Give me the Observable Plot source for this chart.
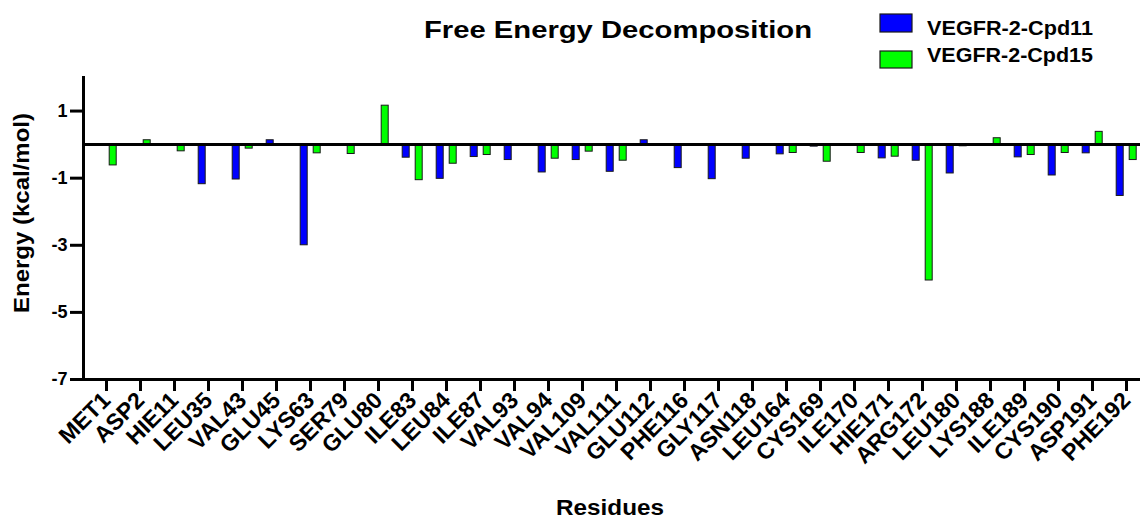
<!DOCTYPE html>
<html><head><meta charset="utf-8">
<script src="https://cdn.jsdelivr.net/npm/d3@7"></script>
<script src="https://cdn.jsdelivr.net/npm/@observablehq/plot@0.6"></script>
<style>
body{margin:0;background:#fff;}
#wrap{position:relative;width:1140px;height:521px;overflow:hidden;font-family:"Liberation Sans",Arial,sans-serif;}
#wrap svg{position:absolute;left:0;top:0;}
</style></head><body><div id="wrap"></div>
<script>
const residues = ["MET1","ASP2","HIE11","LEU35","VAL43","GLU45","LYS63","SER79","GLU80","ILE83","LEU84","ILE87","VAL93","VAL94","VAL109","VAL111","GLU112","PHE116","GLY117","ASN118","LEU164","CYS169","ILE170","HIE171","ARG172","LEU180","LYS188","ILE189","CYS190","ASP191","PHE192"];
const cpd11 = [0,0,0,-1.18,-1.04,0.13,-3.0,-0.04,0,-0.39,-1.02,-0.37,-0.46,-0.83,-0.46,-0.81,0.13,-0.70,-1.03,-0.42,-0.29,-0.06,0,-0.41,-0.48,-0.86,0,-0.38,-0.92,-0.26,-1.53];
const cpd15 = [-0.62,0.13,-0.2,0,-0.12,0,-0.26,-0.28,1.16,-1.06,-0.57,-0.31,0,-0.42,-0.21,-0.48,0,0,0,0,-0.25,-0.51,-0.25,-0.36,-4.05,-0.05,0.19,-0.31,-0.25,0.38,-0.46];
const seriesNames = ["VEGFR-2-Cpd11","VEGFR-2-Cpd15"];
const seriesColors = ["#0000ff","#00ff00"];
const yTicks = [1,-1,-3,-5,-7];
const titleText = "Free Energy Decomposition";
const xLabel = "Residues";
const yLabel = "Energy (kcal/mol)";

const rows11 = residues.map((r,i)=>({residue:r, series:seriesNames[0], value:cpd11[i]}));
const rows15 = residues.map((r,i)=>({residue:r, series:seriesNames[1], value:cpd15[i]}));
const font = '"Liberation Sans", Arial, sans-serif';

const W = 1140, ML = 83, MT = 77, MB = 142, H = 521;
const chart = Plot.plot({
  width:W, height:H, marginLeft:ML, marginRight:0, marginTop:MT, marginBottom:MB,
  style:{fontFamily:font, background:"transparent", overflow:"visible", color:"#000"},
  x:{type:"band", domain:residues, range:[80,1151.7], padding:0, label:null},
  y:{domain:[-7,2], label:null},
  color:{domain:seriesNames, range:seriesColors},
  marks:[
    Plot.barY(rows11, {x:"residue", y:"value", fill:"series", stroke:"#1a1a1a", strokeWidth:1, insetLeft:13.5, insetRight:13.5, dx:-6.3}),
    Plot.barY(rows15, {x:"residue", y:"value", fill:"series", stroke:"#1a1a1a", strokeWidth:1, insetLeft:13.5, insetRight:13.5, dx:6.7}),
    Plot.ruleY([0], {stroke:"#000", strokeWidth:3}),
    // axis lines
    Plot.ruleY([-7], {stroke:"#000", strokeWidth:3, insetLeft:-1.5}),
    Plot.frame({anchor:"left", stroke:"#000", strokeWidth:3}),
    // tick marks
    Plot.ruleY(yTicks, {stroke:"#000", strokeWidth:3, insetLeft:-13, insetRight:W-ML}),
    Plot.ruleX(residues, {x:d=>d, stroke:"#000", strokeWidth:3, insetTop:H-MB-MT, insetBottom:-12}),
    // tick labels
    Plot.axisY({ticks:yTicks, tickSize:0, tickPadding:16, fontSize:18, fontWeight:"bold", label:null, tickFormat:d=>String(d)}),
    Plot.axisX({tickSize:0, tickPadding:17, tickRotate:-45, fontSize:23, fontWeight:"bold", label:null})
  ]
});
const wrap = document.getElementById("wrap");
wrap.appendChild(chart);

// overlay: title, legend, axis titles
const ov = d3.select(wrap).append("svg").attr("width",W).attr("height",H)
  .style("font-family",font).style("font-weight","bold").attr("fill","#000");
ov.append("text").attr("x",618).attr("y",38).attr("text-anchor","middle").attr("font-size",24)
  .attr("textLength",388).attr("lengthAdjust","spacingAndGlyphs").text(titleText);
const leg = [{y:14,h:18,ty:35},{y:51,h:17,ty:62}];
seriesNames.forEach((s,i)=>{
  ov.append("rect").attr("x",880).attr("y",leg[i].y).attr("width",32).attr("height",leg[i].h)
    .attr("fill",seriesColors[i]).attr("stroke","#1a1a1a").attr("stroke-width",1.2);
  ov.append("text").attr("x",927).attr("y",leg[i].ty).attr("font-size",20)
    .attr("textLength",166).attr("lengthAdjust","spacingAndGlyphs").text(s);
});
ov.append("text").attr("x",610).attr("y",515).attr("text-anchor","middle").attr("font-size",22)
  .attr("textLength",108).attr("lengthAdjust","spacingAndGlyphs").text(xLabel);
ov.append("text").attr("transform","translate(29,213) rotate(-90)").attr("text-anchor","middle").attr("font-size",22)
  .attr("textLength",200).attr("lengthAdjust","spacingAndGlyphs").text(yLabel);
</script></body></html>
